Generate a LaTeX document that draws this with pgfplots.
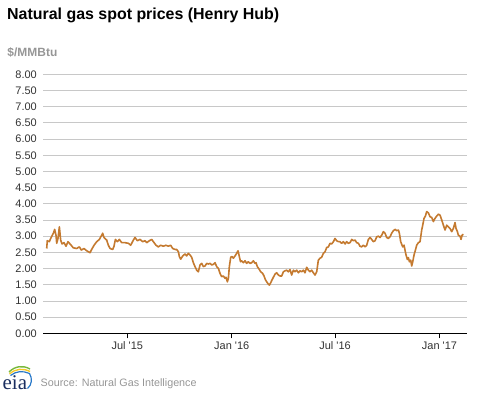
\documentclass[border=0pt]{standalone}
\usepackage{pgfplots}
\pgfplotsset{compat=1.18}
\usepackage{fontspec}
\setmainfont{Liberation Sans}[Ligatures=TeXOff]
\newfontfamily\seriffont{Liberation Serif}
\definecolor{gasline}{RGB}{196,122,48}
\definecolor{gridc}{RGB}{200,200,200}
\definecolor{ticktext}{RGB}{51,51,51}
\definecolor{graytext}{RGB}{150,150,150}
\definecolor{eianavy}{RGB}{25,45,95}
\definecolor{eiagreen}{RGB}{120,185,60}
\definecolor{eiayellow}{RGB}{245,200,40}
\definecolor{eiablue}{RGB}{40,120,200}
\begin{document}
\begin{tikzpicture}[x=1bp,y=1bp]
\path[use as bounding box] (0,0) rectangle (477,393);
\node[anchor=base west, font=\fontsize{16}{19}\selectfont\bfseries, inner sep=0] at (7,373.5) {Natural gas spot prices (Henry Hub)};
\node[anchor=base west, font=\fontsize{12}{14}\selectfont\bfseries, text=graytext, inner sep=0] at (7.3,336.3) {\$/MMBtu};
\begin{axis}[
  at={(43.3bp,59.7bp)}, anchor=south west,
  scale only axis, width=423.4bp, height=259bp,
  xmin=33, xmax=779, ymin=0, ymax=8,
  axis x line*=bottom, axis y line*=left,
  y axis line style={draw=none},
  x axis line style={black, line width=1.2bp, -},
  xtick={181,365,547,731},
  xticklabels={Jul '15, Jan '16, Jul '16, Jan '17},
  ytick={0,0.5,...,8},
  tick align=outside,
  xtick style={black, line width=0.8bp},
  ytick style={draw=none},
  major tick length=5bp,
  ymajorgrids,
  grid style={gridc, line width=0.8bp},
  /pgf/number format/assume math mode=true,
  yticklabel={\pgfmathprintnumber[fixed, fixed zerofill, precision=2]{\tick}},
  yticklabel style={font=\fontsize{11}{13}\selectfont, text=ticktext, xshift=2bp},
  xticklabel style={font=\fontsize{11}{13}\selectfont, text=ticktext},
]
\addplot[gasline, line width=1.6bp, line join=round] coordinates {
(39,2.62) (40,2.86) (43.6,2.83) (46,2.93) (50.7,3.09) (53,3.21) (55.4,3.03) (56.6,2.78) (58.9,2.93) (61.3,3.29)
(63.6,2.88) (66,2.76) (69.5,2.80) (73,2.69) (76.5,2.83) (80.1,2.76) (85.9,2.64) (91.8,2.62) (96.5,2.67) (100,2.57)
(104.7,2.62) (109.4,2.55) (115.3,2.49) (118.2,2.59) (122.4,2.72) (127.1,2.83) (131.8,2.90) (135.9,3.03) (137.6,3.09) (140,2.96)
(144.7,2.88) (147.6,2.72) (150.6,2.62) (155.3,2.59) (157.6,2.69) (160,2.90) (163.5,2.83) (167,2.90) (171.1,2.80) (177,2.80)
(182.9,2.78) (187,2.72) (191.7,2.88) (194.6,2.96) (198.7,2.86) (203.4,2.90) (208.1,2.83) (212.2,2.86) (215.2,2.80) (219.9,2.86)
(224,2.90) (226.9,2.83) (231.6,2.72) (235.7,2.67) (239.8,2.72) (244.5,2.69) (249.2,2.72) (253.3,2.69) (257.4,2.72) (261,2.62)
(265.1,2.59) (268,2.59) (271,2.52) (272.7,2.37) (275.1,2.29) (278.6,2.39) (282.7,2.45) (285.6,2.39) (288.6,2.47) (291.5,2.42)
(294.4,2.35) (297.4,2.18) (300.3,2.06) (303.3,1.95) (306.2,1.90) (309.1,2.11) (312.1,2.16) (315,2.06) (317.9,2.08) (320.9,2.16)
(323.8,2.14) (326.8,2.16) (329.7,2.11) (332.6,2.13) (335.6,2.18) (338.5,2.06) (341.4,2.01) (344.4,1.85) (347.3,1.75) (350.3,1.77)
(353.2,1.70) (355,1.73) (357.3,1.59) (359.1,1.70) (360.8,2.06) (363.2,2.35) (365.5,2.37) (367.9,2.32) (370.8,2.39) (373.7,2.47)
(376.1,2.55) (378.4,2.37) (380.5,2.21) (382.5,2.24) (385.5,2.18) (388.4,2.24) (391.3,2.16) (394.3,2.21) (397.2,2.16) (400.2,2.18)
(403.1,2.24) (406,2.16) (407.8,2.18) (410.1,2.06) (413.7,1.97) (416,1.90) (419.5,1.85) (421.9,1.77) (424.2,1.66) (426.6,1.59)
(429.5,1.52) (431.3,1.49) (433.6,1.56) (436,1.65) (438.3,1.73) (441.3,1.83) (444.2,1.87) (447.2,1.80) (450.1,1.77) (453,1.77)
(456,1.90) (458.9,1.93) (461.8,1.95) (464.8,1.90) (467.7,1.97) (470.6,1.80) (473.6,1.95) (476.5,1.90) (479.5,1.95) (482.4,1.87)
(485.3,1.93) (488.3,1.90) (491.2,1.95) (494.1,1.87) (497.1,2.04) (500,1.95) (503,1.90) (505.9,1.95) (508.8,1.87) (511.8,1.80)
(514.7,1.90) (517.6,2.26) (520.6,2.32) (523.5,2.35) (526.4,2.47) (529.4,2.52) (532.3,2.65) (535.3,2.67) (538.2,2.78) (541.1,2.76)
(544.1,2.83) (547,2.93) (549.9,2.86) (552.9,2.83) (555.8,2.83) (558.7,2.78) (561.7,2.83) (564.6,2.76) (567.5,2.83) (570.5,2.78)
(573.4,2.80) (576.4,2.90) (579.3,2.86) (582.2,2.88) (585.2,2.80) (588.1,2.78) (591,2.69) (594,2.67) (596.9,2.72) (599.9,2.67)
(602.8,2.72) (605.7,2.90) (608.7,2.96) (611.6,2.90) (614.5,2.83) (617.5,2.86) (620.4,2.98) (623.4,3.00) (626.3,2.96) (629.2,3.03)
(632.2,3.14) (635.1,3.09) (638,2.96) (641,2.93) (643.9,2.98) (646.8,3.09) (649.8,3.17) (652.7,3.21) (655.7,3.17) (658.6,3.19)
(660.4,3.09) (662.7,2.83) (666.2,2.67) (668.6,2.72) (670.3,2.57) (672.1,2.42) (674.5,2.28) (676.2,2.34) (678,2.21) (680.3,2.26)
(682.1,2.08) (683.9,2.21) (686.2,2.42) (688.6,2.57) (690.9,2.72) (693.8,2.80) (696.8,2.83) (699.7,3.19) (701.5,3.34) (703.8,3.55)
(706.2,3.62) (708.5,3.76) (711.5,3.72) (714.4,3.60) (717.3,3.58) (720.3,3.45) (723.2,3.55) (726.1,3.62) (729.1,3.68) (732,3.65)
(735,3.50) (737.9,3.34) (740.8,3.19) (743.8,3.34) (746.7,3.29) (749.6,3.24) (752.6,3.14) (755.5,3.24) (758.4,3.42) (760.2,3.24)
(762.6,3.14) (764.3,3.03) (767.3,3.00) (769,2.90) (770.8,3.03) (773.1,3.06)
};
\end{axis}
% footer: eia logo and source
\node[anchor=base west, inner sep=0, font=\seriffont\fontsize{21}{21}\selectfont, text=eianavy] at (2.5,4) {eia};
\draw[eiagreen, line width=1.4bp] (9,21) .. controls (15,27) and (23,28) .. (30,24);
\draw[eiayellow, line width=1.4bp] (9.5,19) .. controls (15.5,24.5) and (23,25) .. (30,21.5);
\draw[eiablue, line width=1.2bp] (10.5,17.5) .. controls (16,22) and (23,22.5) .. (29.5,19.5) .. controls (32.5,15) and (32,8) .. (27.5,4.5);
\node[anchor=base west, inner sep=0, font=\fontsize{10.8}{13}\selectfont, text=graytext] at (40.5,6.3) {Source: Natural Gas Intelligence};
\end{tikzpicture}
\end{document}
